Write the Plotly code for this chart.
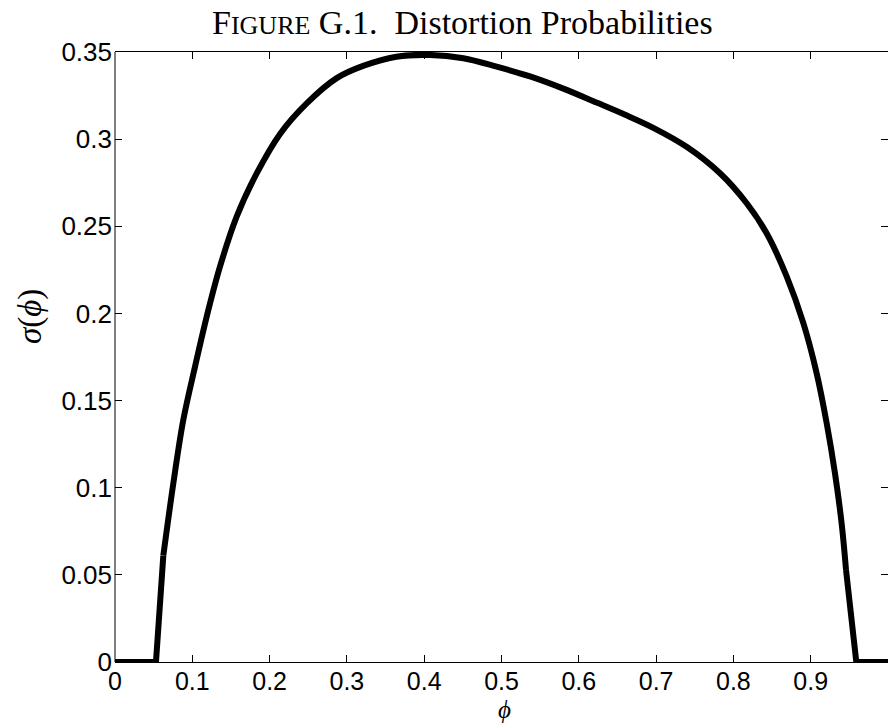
import plotly.graph_objects as go

# Distortion probability sigma(phi) over phi in [0, 1]
# flat zero stretch on the left, then the jump up to the curved part
phi_left = [0.0, 0.053, 0.0625]
sigma_left = [0.0, 0.0, 0.061]

# smooth hump
phi_mid = [0.0625, 0.0755, 0.0884, 0.1035, 0.1186, 0.1358, 0.1574, 0.1833,
           0.2135, 0.248, 0.2868, 0.321, 0.364, 0.4075, 0.4506, 0.4938,
           0.5369, 0.58, 0.623, 0.66, 0.6964, 0.7395, 0.7827, 0.8172, 0.843,
           0.869, 0.8905, 0.9077, 0.9207, 0.9314, 0.94, 0.9457]
sigma_mid = [0.061, 0.1026, 0.1390, 0.1694, 0.1981, 0.2268, 0.2555, 0.2803,
             0.3030, 0.3205, 0.3350, 0.3420, 0.3473, 0.3483, 0.3464, 0.3416,
             0.3360, 0.3290, 0.3210, 0.3140, 0.3065, 0.2956, 0.2804, 0.2632,
             0.2460, 0.2211, 0.1944, 0.1657, 0.1370, 0.1083, 0.0796, 0.0528]

# drop back to zero and flat stretch on the right
phi_right = [0.9457, 0.959, 1.0]
sigma_right = [0.0528, 0.0, 0.0]

x_ticks = [0, 0.1, 0.2, 0.3, 0.4, 0.5, 0.6, 0.7, 0.8, 0.9, 1]
x_labels = ["0", "0.1", "0.2", "0.3", "0.4", "0.5", "0.6", "0.7", "0.8", "0.9", "1"]
y_ticks = [0, 0.05, 0.1, 0.15, 0.2, 0.25, 0.3, 0.35]
y_labels = ["0", "0.05", "0.1", "0.15", "0.2", "0.25", "0.3", "0.35"]

W, H = 888, 723
ML, MR, MT, MB = 115, 0, 52, 61

line_style = dict(color="black", width=6)

fig = go.Figure()
fig.add_trace(go.Scatter(x=phi_left, y=sigma_left, mode="lines",
                         line=line_style, hoverinfo="skip", showlegend=False))
fig.add_trace(go.Scatter(x=phi_mid, y=sigma_mid, mode="lines",
                         line=dict(line_style, shape="spline", smoothing=1.0),
                         hoverinfo="skip", showlegend=False))
fig.add_trace(go.Scatter(x=phi_right, y=sigma_right, mode="lines",
                         line=line_style, hoverinfo="skip", showlegend=False))

tick_font = dict(family="Liberation Sans, Arial, sans-serif", size=26, color="black")
x_tick_font = dict(tick_font, size=25)

fig.update_layout(
    width=W, height=H,
    margin=dict(l=ML, r=MR, t=MT, b=MB, pad=0),
    paper_bgcolor="white", plot_bgcolor="white",
    xaxis=dict(range=[0, 1], tickvals=x_ticks, ticktext=x_labels,
               ticks="inside", ticklen=7, tickwidth=1, tickcolor="black",
               ticklabelstandoff=-3,
               showline=True, linecolor="black", linewidth=1, mirror="ticks",
               showgrid=False, zeroline=False, tickfont=x_tick_font),
    yaxis=dict(range=[0, 0.35], tickvals=y_ticks, ticktext=y_labels,
               ticks="inside", ticklen=7, tickwidth=1, tickcolor="black",
               ticklabelstandoff=2,
               showline=False, mirror="ticks",
               showgrid=False, zeroline=False, tickfont=tick_font),
)

# left edge of the axes box (right edge falls at the figure border)
fig.add_shape(type="line", xref="paper", yref="paper", x0=0, x1=0, y0=0, y1=1,
              line=dict(color="black", width=1))

plot_w = W - ML - MR
plot_h = H - MT - MB

def px_x(p):
    return (p - ML) / plot_w

def px_y(p):
    return (H - MB - p) / plot_h

serif = "Liberation Serif, Times New Roman, serif"

fig.add_annotation(
    text='F<span style="font-size:26px">IGURE</span> G.1.\u00a0\u00a0Distortion Probabilities',
    xref="paper", yref="paper", x=px_x(462), y=px_y(23),
    xanchor="center", yanchor="middle", showarrow=False,
    font=dict(family=serif, size=34, color="black"))

fig.add_annotation(
    text="<i>σ</i>(<i>ϕ</i>)", textangle=-90,
    xref="paper", yref="paper", x=px_x(30), y=px_y(317),
    xanchor="center", yanchor="middle", showarrow=False,
    font=dict(family=serif, size=33, color="black"))

fig.add_annotation(
    text="<i>ϕ</i>",
    xref="paper", yref="paper", x=px_x(504), y=px_y(709),
    xanchor="center", yanchor="middle", showarrow=False,
    font=dict(family=serif, size=25, color="black"))

fig.write_html("out.html")
